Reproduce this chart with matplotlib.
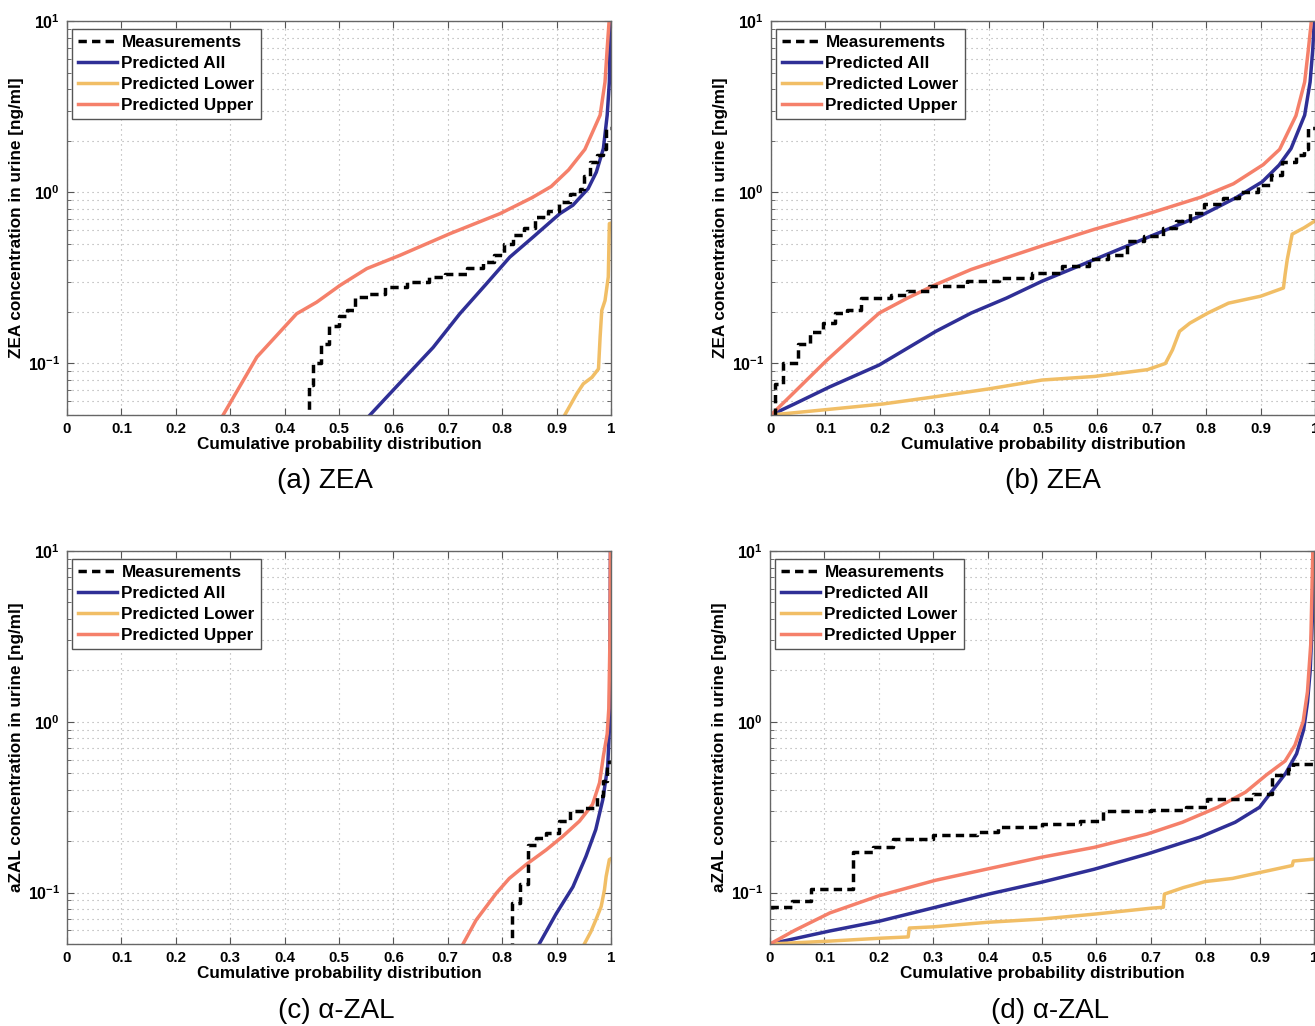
import numpy as np
import matplotlib.pyplot as plt
from matplotlib.ticker import FixedLocator, FixedFormatter, NullFormatter
from matplotlib.lines import Line2D

plt.rcParams['font.family'] = ['Liberation Sans', 'DejaVu Sans']
plt.rcParams['mathtext.fontset'] = 'custom'
plt.rcParams['mathtext.rm'] = 'Liberation Sans:bold'
plt.rcParams['mathtext.it'] = 'Liberation Sans:bold'
plt.rcParams['mathtext.bf'] = 'Liberation Sans:bold'

# ---- (a) ZEA ----
a_meas_p = [0.40, 0.444, 0.452, 0.466, 0.482, 0.50, 0.515, 0.53, 0.555, 0.585, 0.625, 0.665, 0.695,
            0.735, 0.765, 0.785, 0.803, 0.82, 0.84, 0.86, 0.885, 0.905, 0.925, 0.943, 0.95, 0.962,
            0.975, 0.985, 0.99, 1.0]
a_meas_v = [0.03, 0.075, 0.10, 0.13, 0.165, 0.19, 0.205, 0.245, 0.255, 0.28, 0.298, 0.32, 0.332,
            0.36, 0.39, 0.43, 0.50, 0.56, 0.62, 0.72, 0.78, 0.88, 0.98, 1.05, 1.25, 1.5,
            1.65, 1.8, 2.36, 2.36]
a_all_p = [0.557, 0.612, 0.673, 0.722, 0.771, 0.814, 0.857, 0.906, 0.930, 0.958, 0.973, 0.986, 0.993, 0.997, 0.998, 0.999]
a_all_v = [0.05, 0.077, 0.124, 0.195, 0.292, 0.418, 0.548, 0.75, 0.84, 1.05, 1.31, 1.8, 2.82, 4.4, 6.9, 10.5]
a_low_p = [0.915, 0.937, 0.949, 0.965, 0.977, 0.980, 0.983, 0.989, 0.995, 0.997, 1.0]
a_low_v = [0.05, 0.0665, 0.076, 0.083, 0.093, 0.143, 0.204, 0.233, 0.32, 0.656, 0.66]
a_up_p = [0.287, 0.349, 0.422, 0.459, 0.502, 0.551, 0.612, 0.704, 0.796, 0.855, 0.89, 0.922, 0.952, 0.980, 0.989, 0.993, 0.997]
a_up_v = [0.05, 0.109, 0.195, 0.228, 0.286, 0.358, 0.428, 0.573, 0.75, 0.93, 1.08, 1.35, 1.78, 2.82, 4.4, 6.9, 10.5]

# ---- (b) ZEA ----
b_meas_p = [0.0, 0.008, 0.022, 0.05, 0.072, 0.095, 0.118, 0.14, 0.165, 0.22, 0.25, 0.29, 0.36, 0.42,
            0.48, 0.535, 0.585, 0.62, 0.655, 0.685, 0.72, 0.745, 0.77, 0.796, 0.83, 0.86, 0.895,
            0.92, 0.94, 0.965, 0.98, 0.988, 1.0]
b_meas_v = [0.03, 0.076, 0.10, 0.13, 0.153, 0.172, 0.197, 0.206, 0.241, 0.252, 0.264, 0.282, 0.302, 0.316,
            0.338, 0.37, 0.405, 0.43, 0.52, 0.556, 0.62, 0.68, 0.76, 0.853, 0.93, 1.0, 1.1,
            1.26, 1.5, 1.65, 1.8, 2.36, 2.36]
b_all_p = [0.0, 0.043, 0.108, 0.199, 0.303, 0.368, 0.433, 0.498, 0.595, 0.692, 0.790, 0.855, 0.903, 0.934, 0.956, 0.981, 0.991, 0.996, 0.999]
b_all_v = [0.05, 0.058, 0.073, 0.098, 0.154, 0.197, 0.241, 0.302, 0.405, 0.544, 0.729, 0.93, 1.15, 1.44, 1.8, 2.82, 4.4, 6.9, 10.5]
b_low_p = [0.0, 0.108, 0.206, 0.303, 0.400, 0.498, 0.595, 0.692, 0.725, 0.738, 0.751, 0.770, 0.803, 0.841, 0.900, 0.942, 0.945, 0.949, 0.958, 0.98, 1.0]
b_low_v = [0.05, 0.054, 0.058, 0.064, 0.071, 0.080, 0.084, 0.092, 0.100, 0.120, 0.154, 0.172, 0.197, 0.225, 0.247, 0.276, 0.33, 0.405, 0.569, 0.62, 0.68]
b_up_p = [0.0, 0.043, 0.102, 0.160, 0.199, 0.251, 0.303, 0.368, 0.433, 0.498, 0.595, 0.692, 0.790, 0.85, 0.905, 0.935, 0.965, 0.981, 0.988, 0.994]
b_up_v = [0.05, 0.068, 0.104, 0.153, 0.197, 0.241, 0.289, 0.354, 0.415, 0.486, 0.608, 0.746, 0.935, 1.12, 1.45, 1.78, 2.8, 4.4, 6.9, 10.5]

# ---- (c) alpha-ZAL ----
c_meas_p = [0.70, 0.818, 0.833, 0.847, 0.862, 0.88, 0.905, 0.925, 0.95, 0.975, 0.985, 0.992, 1.0]
c_meas_v = [0.03, 0.087, 0.113, 0.19, 0.21, 0.223, 0.262, 0.30, 0.313, 0.367, 0.45, 0.58, 0.58]
c_all_p = [0.868, 0.899, 0.930, 0.954, 0.972, 0.985, 0.994, 0.997, 0.998, 0.999]
c_all_v = [0.05, 0.075, 0.108, 0.163, 0.234, 0.351, 0.55, 0.9, 2.0, 10.5]
c_low_p = [0.951, 0.963, 0.972, 0.982, 0.988, 0.991, 0.997, 1.0]
c_low_v = [0.05, 0.059, 0.069, 0.083, 0.104, 0.124, 0.156, 0.158]
c_up_p = [0.728, 0.752, 0.789, 0.813, 0.844, 0.881, 0.911, 0.942, 0.966, 0.979, 0.986, 0.993, 0.996, 0.998, 0.999]
c_up_v = [0.05, 0.069, 0.099, 0.121, 0.146, 0.178, 0.213, 0.262, 0.328, 0.44, 0.63, 0.85, 1.2, 3.0, 10.5]

# ---- (d) alpha-ZAL ----
d_meas_p = [0.0, 0.04, 0.076, 0.152, 0.19, 0.227, 0.30, 0.38, 0.42, 0.50, 0.57, 0.612, 0.70, 0.764,
            0.803, 0.887, 0.922, 0.952, 0.962, 1.0]
d_meas_v = [0.082, 0.089, 0.105, 0.172, 0.184, 0.206, 0.217, 0.225, 0.241, 0.252, 0.264, 0.302, 0.306, 0.316,
            0.354, 0.379, 0.486, 0.531, 0.569, 0.569]
d_all_p = [0.0, 0.110, 0.201, 0.304, 0.402, 0.499, 0.596, 0.693, 0.790, 0.855, 0.900, 0.926, 0.948, 0.968, 0.981, 0.988, 0.993, 0.997, 0.999]
d_all_v = [0.05, 0.0596, 0.068, 0.082, 0.098, 0.115, 0.137, 0.168, 0.211, 0.258, 0.316, 0.405, 0.50, 0.65, 0.9, 1.3, 2.0, 4.0, 10.5]
d_low_p = [0.0, 0.11, 0.2, 0.254, 0.256, 0.30, 0.40, 0.50, 0.60, 0.70, 0.723, 0.725, 0.76, 0.80, 0.85, 0.90, 0.96, 0.962, 1.0]
d_low_v = [0.05, 0.052, 0.054, 0.055, 0.062, 0.063, 0.067, 0.070, 0.075, 0.081, 0.082, 0.098, 0.107, 0.116, 0.121, 0.131, 0.144, 0.153, 0.157]
d_up_p = [0.0, 0.045, 0.110, 0.201, 0.304, 0.402, 0.499, 0.596, 0.693, 0.758, 0.823, 0.874, 0.913, 0.947, 0.965, 0.98, 0.988, 0.994, 0.998]
d_up_v = [0.05, 0.060, 0.076, 0.096, 0.118, 0.138, 0.161, 0.184, 0.22, 0.258, 0.316, 0.387, 0.49, 0.59, 0.73, 1.0, 1.5, 2.84, 10.5]

labels = ['Measurements', 'Predicted All', 'Predicted Lower', 'Predicted Upper']
captions = ['(a) ZEA', '(b) ZEA', '(c) α-ZAL', '(d) α-ZAL']
ylabels = ['ZEA concentration in urine [ng/ml]'] * 2 + ['aZAL concentration in urine [ng/ml]'] * 2
xticks = np.arange(0, 1.01, 0.1)
xticklabels = ['0', '0.1', '0.2', '0.3', '0.4', '0.5', '0.6', '0.7', '0.8', '0.9', '1']

col_meas = 'black'
col_all = '#2f2f96'
col_low = '#f1be66'
col_up = '#f5806a'
lw = 2.5
dash = (0, (2.4, 1.5))
grid_ls = (0, (1, 3.5))

panels = [
    (a_meas_p, a_meas_v, a_all_p, a_all_v, a_low_p, a_low_v, a_up_p, a_up_v),
    (b_meas_p, b_meas_v, b_all_p, b_all_v, b_low_p, b_low_v, b_up_p, b_up_v),
    (c_meas_p, c_meas_v, c_all_p, c_all_v, c_low_p, c_low_v, c_up_p, c_up_v),
    (d_meas_p, d_meas_v, d_all_p, d_all_v, d_low_p, d_low_v, d_up_p, d_up_v),
]

W, H = 1315, 1026
fig = plt.figure(figsize=(W / 100, H / 100), dpi=100)

# axes boxes in pixels: left, top, width, height
boxes = [(67, 21, 544, 394), (771, 21, 544, 394), (67, 551, 544, 393), (770, 551, 544, 393)]
cap_pos = [(325, 481), (1053, 481), (336, 1011), (1050, 1011)]

for i, (mp, mv, ap, av, lp, lv, up, uv) in enumerate(panels):
    l, t, w, h = boxes[i]
    ax = fig.add_axes([l / W, 1 - (t + h) / H, w / W, h / H])
    ax.plot(ap, av, color=col_all, lw=lw)
    ax.plot(lp, lv, color=col_low, lw=lw)
    ax.plot(up, uv, color=col_up, lw=lw)
    ax.step(mp, mv, where='post', color=col_meas, lw=lw, ls=dash)

    ax.set_yscale('log')
    ax.set_xlim(0, 1)
    ax.set_ylim(0.05, 10)
    ax.xaxis.set_major_locator(FixedLocator(xticks))
    ax.xaxis.set_major_formatter(FixedFormatter(xticklabels))
    ax.yaxis.set_major_locator(FixedLocator([0.1, 1, 10]))
    ax.yaxis.set_major_formatter(FixedFormatter(['$10^{-1}$', '$10^{0}$', '$10^{1}$']))
    minors = [m * 10.0 ** e for e in (-2, -1, 0) for m in range(2, 10)]
    ax.yaxis.set_minor_locator(FixedLocator(minors))
    ax.yaxis.set_minor_formatter(NullFormatter())

    ax.grid(True, which='major', ls=grid_ls, color='#a8a8a8', lw=0.8)
    ax.grid(True, which='minor', axis='y', ls=grid_ls, color='#a8a8a8', lw=0.8)
    ax.tick_params(which='both', direction='in', top=True, right=True, color='#555555',
                   labelsize=10.8, pad=5)
    ax.tick_params(axis='y', labelsize=11.5)
    ax.tick_params(which='major', length=5)
    ax.tick_params(which='minor', length=3)
    for lab in ax.get_xticklabels():
        lab.set_fontweight('bold')
    for sp in ax.spines.values():
        sp.set_color('#666666')
        sp.set_linewidth(1.0)

    ax.set_xlabel('Cumulative probability distribution', fontsize=12.3, fontweight='bold', labelpad=1)
    ax.set_ylabel(ylabels[i], fontsize=12.3, fontweight='bold', labelpad=3)

    handles = [Line2D([], [], color=col_meas, lw=lw, ls=dash),
               Line2D([], [], color=col_all, lw=lw),
               Line2D([], [], color=col_low, lw=lw),
               Line2D([], [], color=col_up, lw=lw)]
    leg = ax.legend(handles, labels, loc='upper left', bbox_to_anchor=(0.009, 0.98), borderaxespad=0,
                    fancybox=False, framealpha=1, edgecolor='#555555', handlelength=2.3,
                    handletextpad=0.25, labelspacing=0.36, borderpad=0.35,
                    prop={'weight': 'bold', 'size': 12.3})
    leg.get_frame().set_linewidth(1.0)

    cx, cy = cap_pos[i]
    fig.text(cx / W, 1 - cy / H, captions[i], ha='center', va='center', fontsize=20)

fig.savefig('out.png', dpi=100)
